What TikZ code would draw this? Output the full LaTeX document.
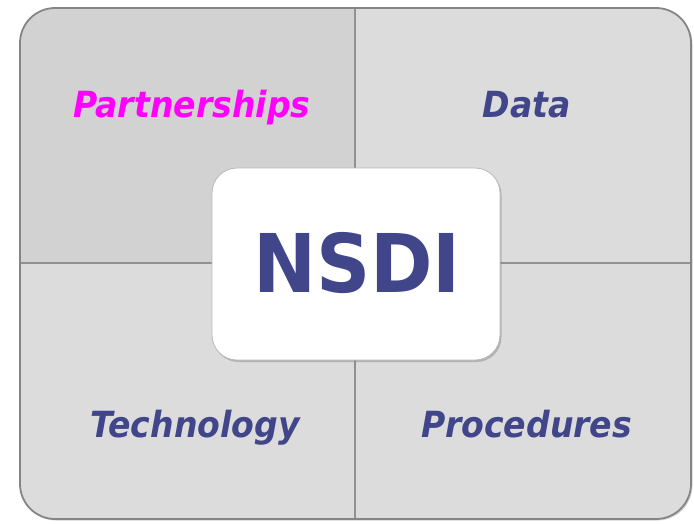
\documentclass[tikz,border=0pt]{standalone}
\usepackage{fontspec}
\setmainfont{DejaVu Sans}
\newfontfamily\labfont[FakeStretch=0.92]{DejaVu Sans}
\newfontfamily\corefont[FakeStretch=0.93]{DejaVu Sans}
\usetikzlibrary{shadows}
\definecolor{navy}{HTML}{404689}
\definecolor{mag}{HTML}{FF00FF}
\definecolor{bgA}{HTML}{D2D2D2}
\definecolor{bgB}{HTML}{DCDCDC}
\definecolor{rim}{HTML}{858585}
\tikzset{
  label/.style={font=\labfont\bfseries\itshape\fontsize{36}{36}\selectfont, text=navy, anchor=base, inner sep=0pt},
  core/.style={font=\corefont\bfseries\fontsize{81}{81}\selectfont, text=navy, anchor=base, inner sep=0pt},
}
\begin{document}
\begin{tikzpicture}[x=1pt,y=-1pt]
\useasboundingbox (0,0) rectangle (694,523);
% outer panel
\fill[bgB, drop shadow={shadow xshift=1.5pt, shadow yshift=-1.5pt, opacity=0.35}, rounded corners=35pt] (20,8) rectangle (691,519);
\begin{scope}
  \clip[rounded corners=35pt] (20,8) rectangle (691,519);
  \fill[bgA] (20,8) rectangle (355,263);
  \draw[rim!90, line width=1.6pt] (355,8) -- (355,519);
  \draw[rim!90, line width=1.6pt] (20,263) -- (691,263);
\end{scope}
\draw[rim, line width=1.8pt, rounded corners=35pt] (20,8) rectangle (691,519);
% centre box
\node[draw=gray!55, line width=0.8pt, fill=white, rounded corners=25pt, minimum width=288pt, minimum height=192pt,
  drop shadow={shadow xshift=1.5pt, shadow yshift=-2pt, opacity=0.45}] (box) at (356,264) {};
\node[core] (nsdi) at (357,292) {NSDI};
\node[label, text=mag] (part) at (192,117) {Partnerships};
\node[label] (data) at (527,117) {Data};
\node[label] (tech) at (195,437) {Technology};
\node[label] (proc) at (527,437) {Procedures};
\end{tikzpicture}
\end{document}
